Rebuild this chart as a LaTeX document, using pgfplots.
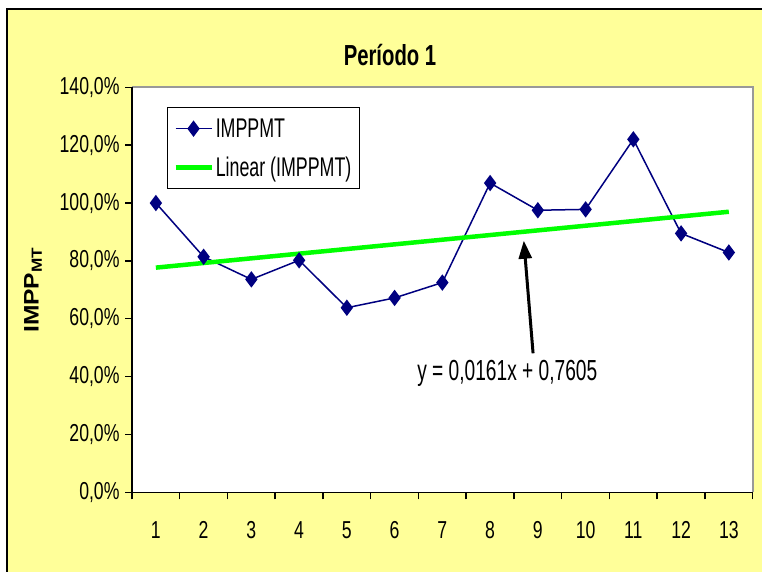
\documentclass[border=0pt]{standalone}
\usepackage{pgfplots}
\pgfplotsset{compat=1.18}
\usepackage{graphicx}
\usepackage{fontspec}
\usetikzlibrary{arrows.meta}
\setmainfont{Liberation Sans}
\newfontfamily\tickf[FakeStretch=0.72]{Liberation Sans}
\newfontfamily\legf[FakeStretch=0.66]{Liberation Sans}
\newfontfamily\titf[FakeStretch=0.70]{Liberation Sans}
\definecolor{bgyel}{RGB}{255,255,153}
\definecolor{navy}{RGB}{0,0,128}
\definecolor{tgreen}{RGB}{0,255,0}
\begin{document}
\begin{tikzpicture}[x=1pt,y=1pt]
\useasboundingbox (0,0) rectangle (762,571);
\fill[white] (0,0) rectangle (762,571);
\fill[bgyel] (7,-5) rectangle (767,562);
\draw[black, line width=2pt] (7,-5) -- (7,562) -- (767,562);
\fill[white] (132,78.7) rectangle (752.7,483.7);
\draw[gray!80, line width=2pt] (132,483.7) -- (752.7,483.7) -- (752.7,78.7);
\node[font=\titf\bfseries\fontsize{29}{32}\selectfont] at (390,516) {Período 1};
\node[rotate=90, font=\bfseries\fontsize{21}{24}\selectfont] at (33,281) {\scalebox{1.17}[1]{IMPP\textsubscript{MT}}};
\begin{axis}[
  at={(132pt,78.7pt)}, anchor=south west, scale only axis,
  width=620.7pt, height=405pt,
  xmin=0.5, xmax=13.5, ymin=0, ymax=1.4,
  axis x line*=bottom, axis y line*=left,
  axis line style={black, line width=1.5pt, -},
  clip=false,
  tick align=outside,
  major tick length=7pt,
  tick style={black, line width=1.5pt},
  xtick={0.5,1.5,2.5,3.5,4.5,5.5,6.5,7.5,8.5,9.5,10.5,11.5,12.5,13.5},
  xticklabels={},
  extra x ticks={1,2,3,4,5,6,7,8,9,10,11,12,13},
  extra x tick labels={1,2,3,4,5,6,7,8,9,10,11,12,13},
  extra x tick style={major tick length=0pt, xticklabel style={yshift=-26pt}},
  xticklabel style={font=\tickf\fontsize{24.5}{28}\selectfont},
  ytick={0,0.2,0.4,0.6,0.8,1,1.2,1.4},
  yticklabels={{0,0\%},{20,0\%},{40,0\%},{60,0\%},{80,0\%},{100,0\%},{120,0\%},{140,0\%}},
  yticklabel style={font=\tickf\fontsize{24.5}{28}\selectfont, xshift=-2pt},
  legend style={at={(0.056,0.951)}, anchor=north west, draw=black, line width=1pt,
    fill=white, font=\legf\fontsize{27}{30}\selectfont,
    inner xsep=6pt, inner ysep=9pt, row sep=14pt},
  legend cell align=left,
  legend image code/.code={\draw[mark repeat=2,mark phase=2,#1] plot coordinates {(0pt,0pt) (18pt,0pt) (36pt,0pt)};},
]
\addplot[color=navy, line width=1.5pt, mark=diamond*, mark size=7pt, mark options={solid, fill=navy}]
  coordinates {(1,1.000) (2,0.814) (3,0.736) (4,0.802) (5,0.638) (6,0.672) (7,0.725)
               (8,1.069) (9,0.975) (10,0.978) (11,1.220) (12,0.895) (13,0.829)};
\addlegendentry{IMPPMT}
\addplot[color=tgreen, line width=4.5pt, no marks]
  coordinates {(1,0.7766) (13,0.9698)};
\addlegendentry{Linear (IMPPMT)}
\draw[-{Triangle[length=18pt,width=13pt]}, line width=3pt] (axis cs:8.90,0.4805) -- (axis cs:8.706,0.8697);
\node[font=\legf\fontsize{29}{32}\selectfont] at (axis cs:8.36,0.412) {y = 0,0161x + 0,7605};
\end{axis}
\end{tikzpicture}
\end{document}
